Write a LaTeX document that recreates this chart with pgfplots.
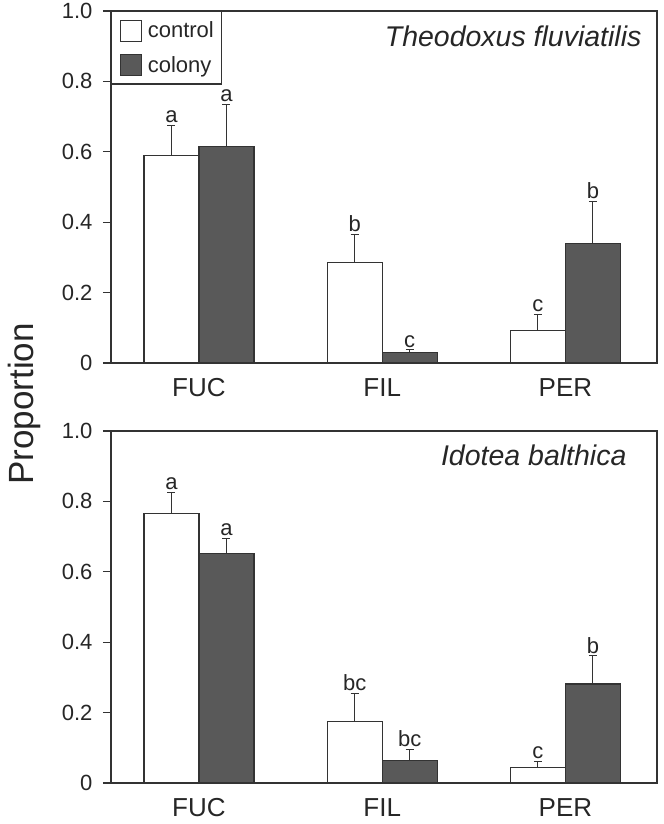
\documentclass[border=0pt]{standalone}
\usepackage{fontspec}
\setmainfont{Liberation Sans}
\usepackage{pgfplots}
\pgfplotsset{compat=1.18}
\definecolor{dk}{HTML}{595959}
\definecolor{ln}{HTML}{333333}
\definecolor{tx}{HTML}{262626}
\pgfplotsset{
  panel/.style={
    scale only axis, width=546bp, height=352bp,
    anchor=south west,
    xmin=-0.48, xmax=2.5, ymin=0, ymax=1,
    xtick={0,1,2}, xticklabels={FUC,FIL,PER},
    ytick={0,0.2,0.4,0.6,0.8,1}, yticklabels={0,0.2,0.4,0.6,0.8,1.0},
    ytick pos=left,
    x tick style={draw=none},
    y tick style={line width=1.2bp, color=ln},
    tick align=outside, major tick length=8bp,
    axis line style={line width=1.5bp, color=ln},
    ticklabel style={color=tx},
    xticklabel style={font=\fontsize{26bp}{30bp}\selectfont, yshift=-4bp},
    yticklabel style={font=\fontsize{22bp}{26bp}\selectfont, anchor=east, xshift=-7bp},
    /pgf/number format/assume math mode=true,
    clip=false,
  },
  ctl/.style={ybar, bar width=55bp, bar shift=-27.5bp, fill=white, draw=ln, line width=1.2bp,
    legend image code/.code={\draw[fill=white, draw=ln, line width=1.2bp] (0bp,-10.5bp) rectangle (21bp,10.5bp);}},
  col/.style={ybar, bar width=55bp, bar shift=27.5bp, fill=dk, draw=ln, line width=1.2bp,
    legend image code/.code={\draw[fill=dk, draw=ln, line width=1.2bp] (0bp,-10.5bp) rectangle (21bp,10.5bp);}},
  errb/.style={forget plot, draw=none, no markers,
    error bars/.cd, y dir=plus, y explicit,
    error bar style={line width=1bp, draw=ln},
    error mark=-, error mark options={rotate=90, mark size=4bp, line width=1bp, draw=ln}},
  lett/.style={forget plot, draw=none, no markers, nodes near coords, point meta=explicit symbolic,
    nodes near coords style={font=\fontsize{22bp}{26bp}\selectfont, color=tx, anchor=south, inner sep=2.5bp}},
}
\begin{document}
\begin{tikzpicture}
\useasboundingbox (0,0) rectangle (664bp,824bp);
% top panel
\begin{axis}[panel, at={(111bp,461bp)},
  legend style={at={(0,1)}, anchor=north west, draw=ln, line width=1.2bp, fill=white,
    font=\fontsize{22bp}{26bp}\selectfont, text=tx, inner xsep=8bp, inner ysep=8bp,
    nodes={inner sep=0pt}, row sep=12bp, column sep=6bp},
  legend cell align=left]
\addplot[ctl] table[x=x, y=y] {
x y
0 0.589
1 0.285
2 0.093
};
\addlegendentry{control}
\addplot[col] table[x=x, y=y] {
x y
0 0.614
1 0.029
2 0.340
};
\addlegendentry{colony}
\addplot[errb] table[x=x, y=y, y error=e] {
x y e
-0.15 0.589 0.085
0.85 0.285 0.079
1.85 0.093 0.046
0.15 0.614 0.121
1.15 0.029 0.008
2.15 0.340 0.118
};
\addplot[lett] table[x=x, y=y, meta=l] {
x y l
-0.15 0.674 a
0.85 0.364 b
1.85 0.139 c
0.15 0.735 a
1.15 0.037 c
2.15 0.458 b
};
\node[anchor=base east, font=\fontsize{28.5bp}{32bp}\selectfont\itshape, color=tx] at (rel axis cs:0.978,0.898) {Theodoxus fluviatilis};
\end{axis}
% bottom panel
\begin{axis}[panel, at={(111bp,41bp)}]
\addplot[ctl] table[x=x, y=y] {
x y
0 0.765
1 0.174
2 0.045
};
\addplot[col] table[x=x, y=y] {
x y
0 0.651
1 0.064
2 0.281
};
\addplot[errb] table[x=x, y=y, y error=e] {
x y e
-0.15 0.765 0.061
0.85 0.174 0.081
1.85 0.045 0.016
0.15 0.651 0.045
1.15 0.064 0.030
2.15 0.281 0.080
};
\addplot[lett] table[x=x, y=y, meta=l] {
x y l
-0.15 0.826 a
0.85 0.255 bc
1.85 0.061 c
0.15 0.696 a
1.15 0.094 bc
2.15 0.361 b
};
\node[anchor=base east, font=\fontsize{28.5bp}{32bp}\selectfont\itshape, color=tx] at (rel axis cs:0.9505,0.903) {Idotea balthica};
\end{axis}
\node[rotate=90, anchor=base, font=\fontsize{35bp}{40bp}\selectfont, color=tx] at (33bp,420bp) {Proportion};
\end{tikzpicture}
\end{document}
